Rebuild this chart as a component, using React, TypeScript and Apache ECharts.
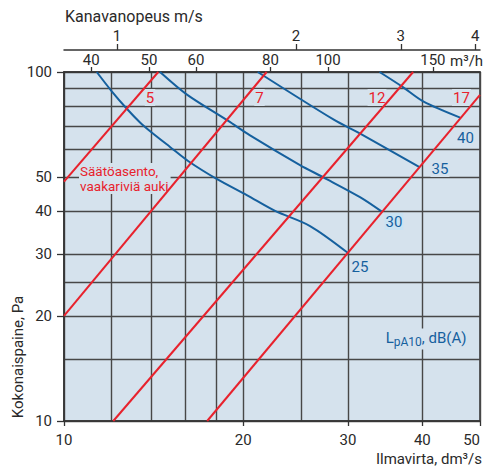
import React, { useEffect, useRef } from "react";
import * as echarts from "echarts";

// Axis tick / grid values
const flowLabels = [10, 20, 30, 40, 50]; // dm³/s
const flowGrid = [10, 12, 14, 16, 18, 20, 25, 30, 40, 50];
const pressureLabels = [10, 20, 30, 40, 50, 100]; // Pa
const pressureGrid = [10, 15, 20, 25, 30, 40, 50, 60, 70, 80, 90, 100];
const airflowM3h = [40, 50, 60, 80, 100, 150]; // m³/h
const velocityMs = [1, 2, 3, 4]; // m/s
const DUCT_FLOW_PER_MS = 12.27; // dm³/s per 1 m/s (Ø125 duct)

// Damper position lines (flow dm³/s, pressure Pa)
const damperNames = ["5", "7", "12", "17"];
const damper5 = [[10, 48.5], [14.4, 100]];
const damper7 = [[10, 20], [21.9, 100]];
const damper12 = [[12.1, 10], [38.6, 100]];
const damper17 = [[17.4, 10], [50, 86]];

// Sound level curves LpA10 dB(A)
const soundNames = ["25", "30", "35", "40"];
const sound25 = [[11.35, 100], [12.02, 88.2], [12.74, 78.6], [13.42, 71.7], [14.04, 67.1], [15.07, 61.0], [16.16, 55.6], [18.05, 49.4], [20.28, 44.4], [22.63, 40.0], [25.91, 36.2], [29.97, 30.35]];
const sound30 = [[14.5, 100], [16.07, 86.3], [18.88, 72.4], [20.54, 65.8], [24.92, 54.1], [27.28, 49.9], [31.43, 43.8], [34.2, 39.8]];
const sound35 = [[21.16, 100], [28.4, 73], [31.4, 66.7], [39.5, 53.5]];
const sound40 = [[33.9, 100], [37.0, 90.8], [40.2, 82.2], [46.3, 74.0]];

export default function App() {
  const ref = useRef<HTMLDivElement>(null);
  useEffect(() => {
    const chart = echarts.init(ref.current!, null, { renderer: "svg" });
    const L = Math.log10;
    const toLog = (pts: number[][]) => pts.map(([q, p]) => [L(q), L(p)]);
    const font = "Roboto";
    const axisColor = "#333";
    const gridColor = "#474747";
    const bg = "#d5e2ed";
    const red = "#e8222d";
    const blue = "#15609e";
    const textColor = "#2a2a2a";
    const lbl = { color: textColor, fontSize: 15, fontFamily: font };
    const baseX: any = { type: "value", min: L(10), max: L(50) };
    const baseY: any = { type: "value", min: L(10), max: L(100) };
    const line = { show: true, onZero: false, lineStyle: { color: axisColor, width: 1.5 } };

    const dampers = [damper5, damper7, damper12, damper17];
    const sounds = [sound25, sound30, sound35, sound40];

    const series: any[] = [];
    sounds.forEach((d, i) =>
      series.push({
        type: "line",
        name: "L" + soundNames[i],
        data: toLog(d),
        showSymbol: false,
        smooth: 0.3,
        lineStyle: { color: blue, width: 2 },
        z: 3,
      })
    );
    dampers.forEach((d, i) =>
      series.push({
        type: "line",
        name: "D" + damperNames[i],
        data: toLog(d),
        showSymbol: false,
        lineStyle: { color: red, width: 2 },
        z: 4,
      })
    );

    const damperLabelPos = [[150, 97.5], [259.5, 97.5], [377, 97.5], [461.5, 97.5]];
    const soundLabelPos = [[360, 266.5], [394, 221.5], [440, 168.5], [465.5, 137.5]];

    const graphic: any[] = [
      { type: "text", x: 65, y: 16, style: { text: "Kanavanopeus m/s", fill: textColor, fontSize: 16, fontFamily: font, align: "left", verticalAlign: "middle" } },
      { type: "text", x: 450, y: 60.5, style: { text: "m³/h", fill: textColor, fontSize: 15, fontFamily: font, align: "left", verticalAlign: "middle" } },
      { type: "text", x: 482, y: 458.5, style: { text: "Ilmavirta, dm³/s", fill: textColor, fontSize: 15, fontFamily: font, align: "right", verticalAlign: "middle" } },
      { type: "text", x: 18, y: 357, rotation: Math.PI / 2, style: { text: "Kokonaispaine, Pa", fill: textColor, fontSize: 15, fontFamily: font, align: "center", verticalAlign: "middle" } },
      {
        type: "text", x: 79, y: 163, z: 1,
        style: { text: "Säätöasento,\nvaakariviä auki", fill: red, fontSize: 13.5, lineHeight: 14.5, fontFamily: font, align: "left", verticalAlign: "top", backgroundColor: bg, padding: [1, 2, 1, 1] },
      },
      {
        type: "text", x: 426, y: 339, z: 1,
        style: {
          text: "{a|L}{b|pA10}{a|, dB(A)}", align: "center", verticalAlign: "middle", backgroundColor: bg, padding: [2, 2],
          rich: {
            a: { fill: blue, fontSize: 15, fontFamily: font, lineHeight: 17, verticalAlign: "top" },
            b: { fill: blue, fontSize: 12, fontFamily: font, lineHeight: 14, verticalAlign: "bottom", padding: [5, 0, 0, 0] },
          },
        },
      },
    ];
    damperNames.forEach((t, i) =>
      graphic.push({ type: "text", x: damperLabelPos[i][0], y: damperLabelPos[i][1], z: 1, style: { text: t, fill: red, fontSize: 15, fontFamily: font, align: "center", verticalAlign: "middle", backgroundColor: bg, padding: [1, 1] } })
    );
    soundNames.forEach((t, i) =>
      graphic.push({ type: "text", x: soundLabelPos[i][0], y: soundLabelPos[i][1], z: 1, style: { text: t, fill: blue, fontSize: 15, fontFamily: font, align: "center", verticalAlign: "middle", backgroundColor: i === 1 ? "#c9e3f3" : bg, padding: [1, 1] } })
    );

    chart.setOption({
      animation: false,
      backgroundColor: "#fff",
      grid: { left: 64, right: 6, top: 72, bottom: 46, show: true, backgroundColor: bg, borderColor: axisColor, borderWidth: 1.5 },
      xAxis: [
        {
          ...baseX, position: "bottom", axisLine: line,
          axisTick: { show: true, length: 5, customValues: flowLabels.map(L), lineStyle: { color: axisColor, width: 1.3 } },
          axisLabel: { ...lbl, customValues: flowLabels.map(L), margin: 11, alignMaxLabel: "right", formatter: (v: number) => String(Math.round(Math.pow(10, v))) },
          splitLine: { show: false },
        },
        {
          ...baseX, position: "bottom", axisLine: { show: false },
          axisTick: { show: false, customValues: flowGrid.map(L) },
          axisLabel: { show: false, customValues: flowGrid.map(L) },
          splitLine: { show: true, lineStyle: { color: gridColor, width: 1.4 } },
        },
        {
          ...baseX, position: "top", axisLine: line,
          axisTick: { show: true, length: 5, customValues: airflowM3h.map((v) => L(v / 3.6)), lineStyle: { color: axisColor, width: 1.3 } },
          axisLabel: { ...lbl, customValues: airflowM3h.map((v) => L(v / 3.6)), margin: 5, formatter: (v: number) => String(Math.round(Math.pow(10, v) * 3.6)) },
          splitLine: { show: false },
        },
        {
          ...baseX, position: "top", offset: 22, axisLine: line,
          axisTick: { show: true, length: 6, customValues: velocityMs.map((v) => L(v * DUCT_FLOW_PER_MS)), lineStyle: { color: axisColor, width: 1.3 } },
          axisLabel: { ...lbl, customValues: velocityMs.map((v) => L(v * DUCT_FLOW_PER_MS)), margin: 7, formatter: (v: number) => String(Math.round(Math.pow(10, v) / DUCT_FLOW_PER_MS)) },
          splitLine: { show: false },
        },
      ],
      yAxis: [
        {
          ...baseY, position: "left", axisLine: line,
          axisTick: { show: true, length: 7, customValues: pressureLabels.map(L), lineStyle: { color: axisColor, width: 1.3 } },
          axisLabel: { ...lbl, customValues: pressureLabels.map(L), margin: 12, formatter: (v: number) => String(Math.round(Math.pow(10, v))) },
          splitLine: { show: false },
        },
        {
          ...baseY, position: "left", axisLine: { show: false },
          axisTick: { show: false, customValues: pressureGrid.map(L) },
          axisLabel: { show: false, customValues: pressureGrid.map(L) },
          splitLine: { show: true, lineStyle: { color: gridColor, width: 1.4 } },
        },
      ],
      series,
      graphic,
    });
    return () => chart.dispose();
  }, []);
  return <div ref={ref} style={{ position: "fixed", left: 0, top: 0, width: 486, height: 467 }} />;
}
